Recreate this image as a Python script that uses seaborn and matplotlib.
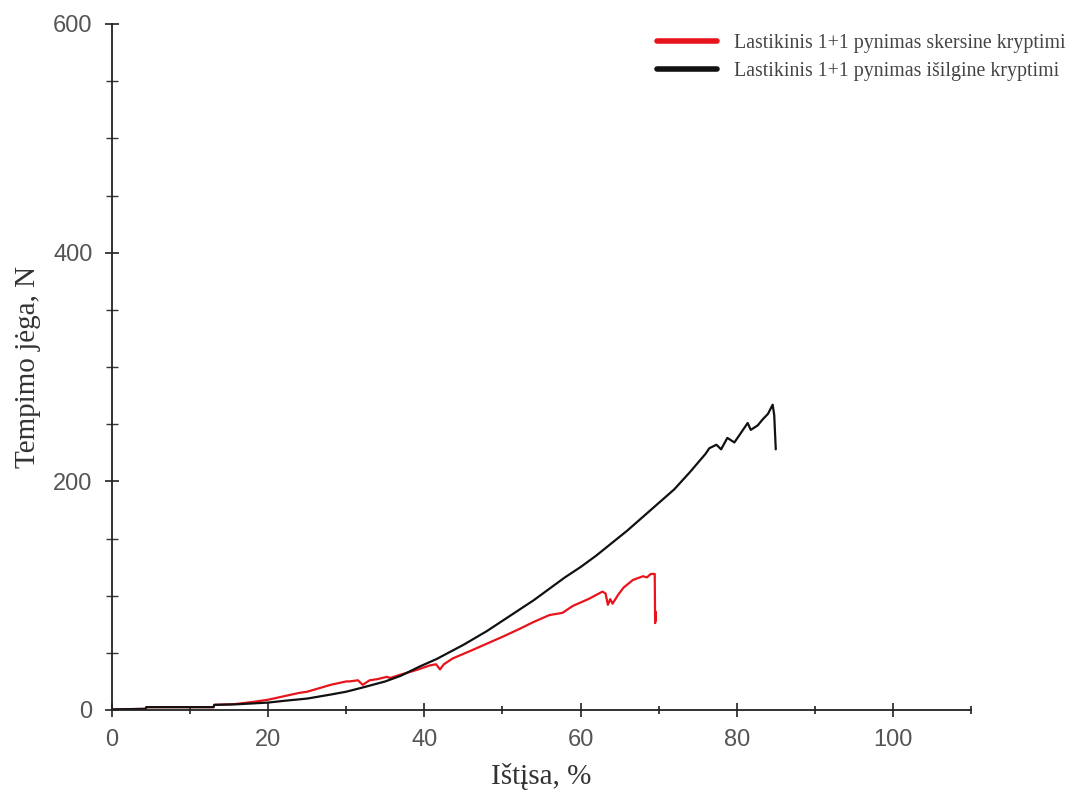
import matplotlib
matplotlib.use("Agg")
import matplotlib.pyplot as plt
from matplotlib.ticker import MultipleLocator
from matplotlib.lines import Line2D
import seaborn as sns
import pandas as pd

# ---- data ----
black_x = [0, 4.3, 4.4, 13, 13.1, 16, 20, 22, 25, 28, 30, 32, 35, 37, 39.4, 41.6,
           45, 48, 50, 52, 54, 56, 58, 60, 62, 64, 66, 68, 70, 72, 74, 76, 76.5,
           77.4, 78, 78.8, 79.7, 80.5, 81.4, 81.8, 82.7, 83.3, 84.0, 84.6, 84.8, 85.0]
black_y = [0.5, 1, 2.5, 2.5, 4.5, 5, 6.5, 8, 10, 13.5, 16, 19.5, 25, 30, 38, 44.7,
           57, 69, 78, 87, 96, 106, 116, 125, 135, 146, 157, 169, 181, 193, 208, 224, 229,
           232, 228, 238, 234, 242, 251, 245, 249, 254, 259, 267, 258, 228]

red_x = [0, 4.3, 4.4, 13, 13.1, 15.5, 18, 20, 22, 24, 25, 27, 28, 30, 30.4, 31.5,
         32.1, 33, 34, 35.2, 35.6, 37, 39, 40.7, 41.5, 42, 42.5, 43.6, 46, 48, 50,
         52.2, 54, 56, 57.7, 59, 61, 62.8, 63.2, 63.5, 63.8, 64.1, 64.8, 65.5, 66.7,
         68, 68.5, 69.0, 69.5, 69.55, 69.6, 69.6]
red_y = [0.5, 1, 2.5, 2.5, 4.5, 5, 7, 9, 12, 15, 16, 20, 22, 25, 25, 26,
         22, 26, 27, 29, 28, 31, 35, 39, 40, 35.5, 40, 45, 52, 58, 64,
         71, 77, 83, 85, 91, 97, 103.5, 102, 92, 97, 93, 100.6, 107, 113.7,
         117, 116, 119, 119, 76, 86, 78]

label_red = "Lastikinis 1+1 pynimas skersine kryptimi"
label_black = "Lastikinis 1+1 pynimas išilgine kryptimi"
x_label = "Ištįsa, %"
y_label = "Tempimo jėga, N"
x_ticks = [0, 20, 40, 60, 80, 100]
y_ticks = [0, 200, 400, 600]

df = pd.concat([
    pd.DataFrame({"x": red_x, "y": red_y, "series": label_red}),
    pd.DataFrame({"x": black_x, "y": black_y, "series": label_black}),
], ignore_index=True)

sns.set_style("ticks")
plt.rcParams["font.family"] = ["Liberation Sans", "DejaVu Sans"]

fig = plt.figure(figsize=(10.8, 7.94), dpi=100)
ax = fig.add_axes([112/1080, 1 - 710/794, (971-112)/1080, (710-24)/794])

sns.lineplot(data=df, x="x", y="y", hue="series", sort=False, estimator=None,
             units="series", palette={label_red: "#e8141c", label_black: "#111111"},
             linewidth=1.6, ax=ax, legend=False)

ax.set_xlim(0, 110)
ax.set_ylim(0, 600)
ax.set_xticks(x_ticks)
ax.set_yticks(y_ticks)
ax.xaxis.set_minor_locator(MultipleLocator(10))
ax.yaxis.set_minor_locator(MultipleLocator(50))

for s in ["top", "right"]:
    ax.spines[s].set_visible(False)
for s in ["left", "bottom"]:
    ax.spines[s].set_color("#222222")
    ax.spines[s].set_linewidth(1.3)

ax.tick_params(which="major", direction="inout", length=10, width=1.2, color="#222222",
               labelsize=17, labelcolor="#555555", pad=9)
ax.tick_params(axis="x", which="minor", direction="inout", length=6, width=1.2, color="#222222")
ax.tick_params(axis="y", which="minor", direction="inout", length=9, width=1.0, color="#333333")

serif = ["Liberation Serif", "DejaVu Serif"]
ax.set_xlabel(x_label, family=serif, fontsize=21, color="#333333", labelpad=8)
ax.set_ylabel(y_label, family=serif, fontsize=21, color="#333333", labelpad=9)

handles = [Line2D([], [], color="#e8141c", linewidth=4),
           Line2D([], [], color="#111111", linewidth=4)]
leg = fig.legend(handles, [label_red, label_black], loc="upper left",
                 bbox_to_anchor=(657/1080, 1 - 34/794), frameon=False,
                 borderpad=0, borderaxespad=0, handlelength=3.0, handletextpad=0.9,
                 labelspacing=0.45, prop={"family": serif, "size": 14.3})
for t in leg.get_texts():
    t.set_color("#444444")

fig.savefig("out.png", dpi=100)
